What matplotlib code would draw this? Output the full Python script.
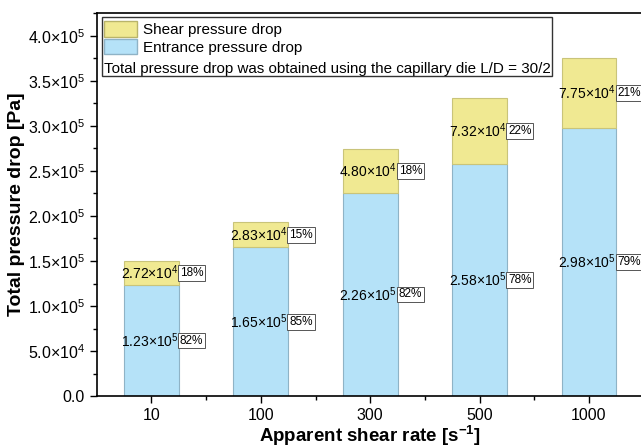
import matplotlib
matplotlib.use('Agg')
import matplotlib.pyplot as plt
from matplotlib.patches import Patch, Rectangle
from matplotlib.ticker import FuncFormatter, MultipleLocator, FixedLocator

plt.rcParams['font.family'] = ['Liberation Sans', 'DejaVu Sans']
plt.rcParams['mathtext.fontset'] = 'custom'
plt.rcParams['mathtext.rm'] = 'Liberation Sans'
plt.rcParams['mathtext.default'] = 'regular'

shear_rates = ['10', '100', '300', '500', '1000']
entrance = [1.23e5, 1.65e5, 2.26e5, 2.58e5, 2.98e5]
shear = [2.72e4, 2.83e4, 4.80e4, 7.32e4, 7.75e4]
entrance_pct = ['82%', '85%', '82%', '78%', '79%']
shear_pct = ['18%', '15%', '18%', '22%', '21%']

yellow = '#f0e992'
blue = '#b5e2f8'

def sci(v, digits=2):
    exp = 0
    while abs(v) >= 10:
        v /= 10.0
        exp += 1
    return r'$%.*f{\times}10^{%d}$' % (digits, v, exp)

fig = plt.figure(figsize=(6.41, 4.48), dpi=100)
ax = fig.add_axes([0.151, 0.116, 0.853, 0.855])

x = list(range(1, len(shear_rates) + 1))
w = 0.5
ax.bar(x, entrance, width=w, color=blue, edgecolor='#8fb3c6', linewidth=0.8)
ax.bar(x, shear, width=w, bottom=entrance, color=yellow, edgecolor='#c9c47a', linewidth=0.8)

box = dict(boxstyle='square,pad=0.15', facecolor='white', edgecolor='#555555', linewidth=0.7)
for xi, e, s, ep, sp in zip(x, entrance, shear, entrance_pct, shear_pct):
    right = xi + w / 2
    ax.text(right - 0.005, e / 2, sci(e), ha='right', va='center', fontsize=10)
    ax.text(right + 0.01, e / 2, ep, ha='left', va='center', fontsize=8.5, bbox=box)
    ax.text(right - 0.005, e + s / 2, sci(s), ha='right', va='center', fontsize=10)
    ax.text(right + 0.01, e + s / 2, sp, ha='left', va='center', fontsize=8.5, bbox=box)

ax.set_xlim(0.5, 5.5)
ax.set_ylim(0, 4.255e5)
ax.set_xticks(x)
ax.set_xticklabels(shear_rates)
ax.xaxis.set_minor_locator(FixedLocator([1.5, 2.5, 3.5, 4.5]))
ax.yaxis.set_major_locator(MultipleLocator(5e4))
ax.yaxis.set_minor_locator(MultipleLocator(2.5e4))

def yfmt(v, pos):
    if v == 0:
        return '0.0'
    return sci(v, 1)

ax.yaxis.set_major_formatter(FuncFormatter(yfmt))
ax.tick_params(axis='both', which='major', labelsize=11.5, length=5, width=1)
ax.tick_params(axis='both', which='minor', length=3, width=1)
ax.set_xlabel('Apparent shear rate [s$^{-1}$]', fontsize=13.5, fontweight='bold', labelpad=0.5)
ax.set_ylabel('Total pressure drop [Pa]', fontsize=14, fontweight='bold', labelpad=2)

for sp in ax.spines.values():
    sp.set_linewidth(1.2)
ax.spines['right'].set_visible(False)

handles = [Patch(facecolor=yellow, edgecolor='#b9b46a', label='Shear pressure drop'),
           Patch(facecolor=blue, edgecolor='#8fb3c6', label='Entrance pressure drop')]
ax.legend(handles=handles, loc='upper left', bbox_to_anchor=(0.0, 0.9985), frameon=False,
          fontsize=11, handlelength=2.15, handleheight=1.2, handletextpad=0.4,
          labelspacing=0.1, borderaxespad=0.3, borderpad=0.2)
ax.text(0.013, 0.853, 'Total pressure drop was obtained using the capillary die L/D = 30/2',
        transform=ax.transAxes, ha='left', va='center', fontsize=10.9)
ax.add_patch(Rectangle((0.0092, 0.8355), 0.8228, 0.1541, transform=ax.transAxes,
                       fill=False, edgecolor='#333333', linewidth=1, zorder=5))

fig.savefig('out.png', dpi=100)
